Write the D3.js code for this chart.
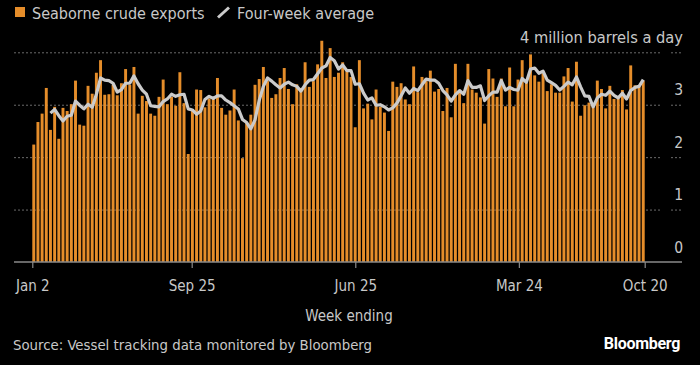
<!DOCTYPE html>
<html>
<head>
<meta charset="utf-8">
<script src="https://cdn.jsdelivr.net/npm/d3@7"></script>
<style>
  html, body { margin: 0; padding: 0; background: #000; }
  svg { display: block; }
  text { font-family: 'DejaVu Sans Condensed', 'DejaVu Sans', sans-serif; font-stretch: condensed; }
</style>
</head>
<body>
<svg id="chart" width="700" height="365"></svg>
<script>
// weekly seaborne crude exports, million barrels a day (week ending Sundays)
const firstWeek = new Date(2022, 0, 2);
const lastWeek = new Date(2024, 9, 20);
const weeks = d3.timeWeek.range(firstWeek, d3.timeDay.offset(lastWeek, 1));

const exportsMbd = [
  2.24, 2.67, 2.83, 3.32, 2.52, 2.96, 2.35, 2.94, 2.88, 3.01,
  3.46, 2.62, 2.60, 3.36, 3.21, 3.61, 3.85, 3.19, 3.20, 3.38,
  3.18, 3.41, 3.68, 3.38, 3.72, 2.83, 3.17, 3.07, 2.83, 2.79,
  3.15, 3.48, 3.01, 3.15, 2.98, 3.62, 3.03, 2.06, 2.88, 3.29,
  3.28, 2.95, 3.12, 3.11, 3.51, 2.94, 2.81, 2.89, 3.29, 2.70,
  1.98, 2.65, 2.81, 3.38, 3.49, 3.72, 3.45, 3.13, 3.20, 3.51,
  3.70, 3.30, 3.01, 3.39, 3.32, 3.81, 3.34, 3.45, 3.77, 4.22,
  3.51, 4.08, 3.53, 3.61, 3.81, 3.64, 3.53, 2.57, 3.85, 2.93,
  3.02, 2.72, 3.29, 2.96, 2.85, 2.50, 3.44, 3.34, 3.41, 3.10,
  3.01, 3.73, 3.24, 3.53, 3.45, 3.65, 3.25, 3.30, 2.88, 3.32,
  2.76, 3.78, 3.23, 3.03, 3.78, 3.29, 3.23, 3.14, 2.64, 3.68,
  3.50, 3.15, 3.50, 2.97, 3.71, 2.97, 3.48, 3.85, 3.42, 3.96,
  3.56, 3.44, 3.60, 3.26, 3.39, 3.23, 3.23, 3.54, 3.70, 3.06,
  3.82, 2.79, 2.99, 3.04, 3.01, 3.46, 3.30, 2.93, 3.36, 3.11,
  3.12, 3.28, 2.91, 3.75, 3.37, 3.35, 3.46
];

// four-week average as plotted (starts with the fifth week)
const fourWeekAvg = [
  null, null, null, null, 2.84, 2.91, 2.79, 2.69, 2.78, 2.80,
  3.07, 2.99, 2.92, 3.01, 2.95, 3.20, 3.51, 3.47, 3.46, 3.41,
  3.24, 3.29, 3.41, 3.41, 3.55, 3.40, 3.28, 3.20, 2.98, 2.97,
  2.96, 3.06, 3.11, 3.20, 3.16, 3.19, 3.20, 2.92, 2.90, 2.82,
  2.88, 3.10, 3.16, 3.12, 3.17, 3.17, 3.09, 3.04, 2.98, 2.92,
  2.72, 2.66, 2.54, 2.71, 3.08, 3.35, 3.51, 3.45, 3.38, 3.32,
  3.39, 3.43, 3.38, 3.35, 3.26, 3.38, 3.47, 3.48, 3.59, 3.70,
  3.74, 3.90, 3.84, 3.68, 3.76, 3.65, 3.65, 3.39, 3.40, 3.22,
  3.09, 3.13, 2.99, 3.00, 2.96, 2.90, 2.94, 3.03, 3.17, 3.32,
  3.22, 3.31, 3.27, 3.38, 3.49, 3.47, 3.47, 3.41, 3.27, 3.19,
  3.07, 3.19, 3.27, 3.20, 3.46, 3.33, 3.33, 3.36, 3.08, 3.17,
  3.24, 3.24, 3.46, 3.28, 3.33, 3.29, 3.28, 3.50, 3.43, 3.68,
  3.70, 3.60, 3.64, 3.47, 3.42, 3.37, 3.28, 3.35, 3.43, 3.38,
  3.53, 3.34, 3.17, 3.16, 2.96, 3.13, 3.20, 3.18, 3.26, 3.18,
  3.13, 3.22, 3.11, 3.27, 3.33, 3.35, 3.48
];

const tickDates = [new Date(2022, 0, 2), new Date(2022, 8, 25), new Date(2023, 5, 25), new Date(2024, 2, 24), new Date(2024, 9, 20)];
const yTicks = [0, 1, 2, 3];
const yUnitLabel = '4 million barrels a day';
const legendLabels = ['Seaborne crude exports', 'Four-week average'];

const barColor = '#e58d2a';
const lineColor = '#cbcbcb';
const textColor = '#c8c8c8';
const gridColor = '#6a6a6a';

const left = 32.3, right = 644.7;
const svg = d3.select('#chart');

svg.append('rect').attr('width', 700).attr('height', 365).attr('fill', '#000');

const x = d3.scaleBand()
  .domain(weeks.map(d => +d))
  .range([left, right])
  .paddingInner(0.3)
  .paddingOuter(0);

const xTime = d3.scaleTime()
  .domain([firstWeek, lastWeek])
  .range([left, right]);

const y = d3.scaleLinear()
  .domain([0, 4])
  .range([262, 52.3]);

// gridlines
const grid = svg.append('g');
[1, 2, 3, 4].forEach(v => {
  grid.append('line')
    .attr('x1', 14).attr('x2', 661)
    .attr('y1', y(v) + 0.5).attr('y2', y(v) + 0.5)
    .attr('stroke', gridColor).attr('stroke-width', 1)
    .attr('stroke-dasharray', '2,2');
  grid.append('line')
    .attr('x1', 671).attr('x2', 683)
    .attr('y1', y(v) + 0.5).attr('y2', y(v) + 0.5)
    .attr('stroke', gridColor).attr('stroke-width', 1)
    .attr('stroke-dasharray', '2,2');
});

// bars
svg.append('g')
  .selectAll('rect')
  .data(exportsMbd)
  .join('rect')
  .attr('x', (d, i) => x(+weeks[i]))
  .attr('y', d => y(d))
  .attr('width', x.bandwidth())
  .attr('height', d => y(0) - y(d))
  .attr('fill', barColor);

// four-week average line
const line = d3.line()
  .defined(d => d != null)
  .x((d, i) => x(+weeks[i]) + x.bandwidth() / 2)
  .y(d => y(d));

svg.append('path')
  .datum(fourWeekAvg)
  .attr('d', line)
  .attr('fill', 'none')
  .attr('stroke', lineColor)
  .attr('stroke-width', 3.2)
  .attr('stroke-linejoin', 'round');

// x axis
const xAxis = svg.append('g')
  .attr('transform', `translate(0,${y(0)})`)
  .call(d3.axisBottom(xTime)
    .tickValues(tickDates)
    .tickFormat(d3.timeFormat('%b %-d'))
    .tickSize(6)
    .tickSizeOuter(0)
    .tickPadding(12));
xAxis.select('.domain').remove();
xAxis.append('line')
  .attr('x1', 14).attr('x2', 682)
  .attr('stroke', '#8a8a8a').attr('stroke-width', 1.5);
xAxis.selectAll('.tick line').attr('stroke', '#8a8a8a').attr('stroke-width', 1.2);
xAxis.selectAll('.tick text')
  .attr('fill', textColor)
  .style('font-size', '15px')
  .style('font-family', null);

// y labels on the right, above gridlines
svg.append('g')
  .selectAll('text')
  .data(yTicks)
  .join('text')
  .attr('x', 683)
  .attr('y', d => y(d) - 9.5)
  .attr('text-anchor', 'end')
  .attr('fill', textColor)
  .style('font-size', '15.5px')
  .text(d => d);

svg.append('text')
  .attr('x', 683)
  .attr('y', y(4) - 9)
  .attr('text-anchor', 'end')
  .attr('fill', textColor)
  .style('font-size', '16.3px')
  .text(yUnitLabel);

// legend
svg.append('rect')
  .attr('x', 15).attr('y', 7)
  .attr('width', 10).attr('height', 10)
  .attr('fill', barColor);
svg.append('text')
  .attr('x', 32).attr('y', 18.5)
  .attr('fill', textColor)
  .style('font-size', '16px')
  .text(legendLabels[0]);
svg.append('line')
  .attr('x1', 218).attr('y1', 17.5)
  .attr('x2', 229).attr('y2', 7.5)
  .attr('stroke', lineColor).attr('stroke-width', 3);
svg.append('text')
  .attr('x', 237).attr('y', 18.5)
  .attr('fill', textColor)
  .style('font-size', '16px')
  .text(legendLabels[1]);

// axis title and footer
svg.append('text')
  .attr('x', 349).attr('y', 321)
  .attr('text-anchor', 'middle')
  .attr('fill', textColor)
  .style('font-size', '15px')
  .text('Week ending');

svg.append('text')
  .attr('x', 13).attr('y', 349.5)
  .attr('fill', textColor)
  .style('font-size', '14.8px')
  .text('Source: Vessel tracking data monitored by Bloomberg');

svg.append('text')
  .attr('x', 680).attr('y', 348.5)
  .attr('text-anchor', 'end')
  .attr('fill', '#ffffff')
  .style('font-size', '16px')
  .style('font-weight', 'bold')
  .style('font-family', 'Roboto, "Liberation Sans", sans-serif')
  .style('font-stretch', 'normal')
  .style('letter-spacing', '-0.3px')
  .text('Bloomberg');
</script>
</body>
</html>
